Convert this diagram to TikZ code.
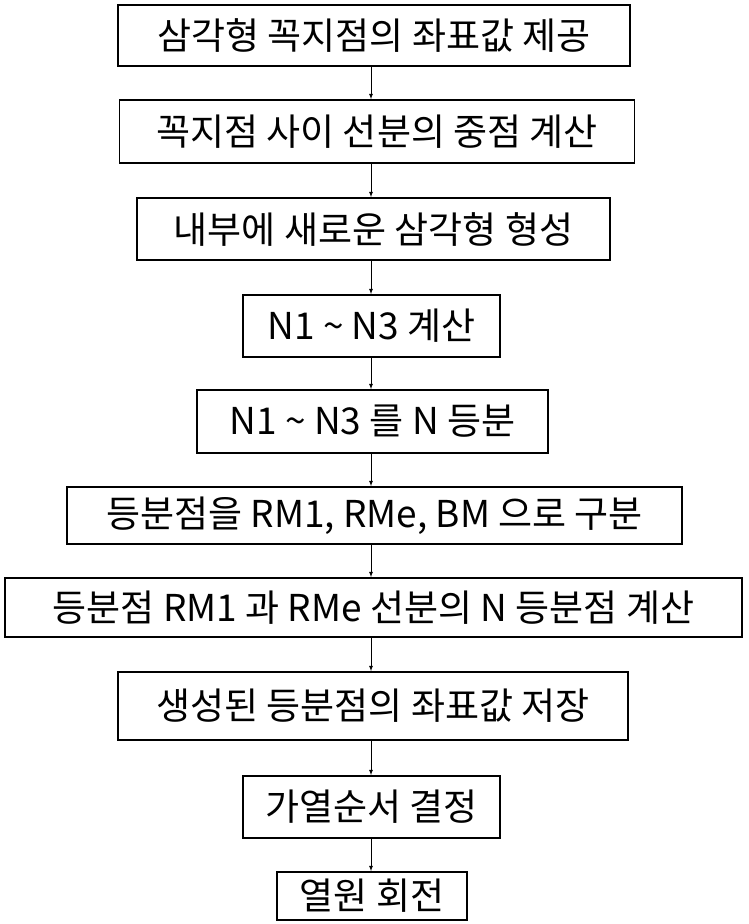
\documentclass[tikz,border=0pt]{standalone}
\usepackage{fontspec}
\setmainfont{Noto Sans CJK KR}
\begin{document}
\begin{tikzpicture}[x=1pt, y=-1pt, inner sep=0pt]
		\tikzstyle{every node}=[align=center]
		\tikzset{stepbox/.style={draw, line width=1.8pt, font=\fontsize{37}{40}\selectfont}}
			\useasboundingbox (0,0) rectangle (748,924);
			\node[stepbox, minimum width=512, minimum height=61] (vertex) at (374,35.5) {삼각형 꼭지점의 좌표값 제공};
			\node[stepbox, minimum width=515, minimum height=63] (midpoint) at (377,131.5) {꼭지점 사이 선분의 중점 계산};
			\node[stepbox, minimum width=473, minimum height=62] (inner) at (373.5,229) {내부에 새로운 삼각형 형성};
			\node[stepbox, minimum width=257, minimum height=62] (ncalc) at (371.5,326) {N1 \textasciitilde{} N3 계산};
			\node[stepbox, minimum width=351, minimum height=63] (ndiv) at (372.5,421.5) {N1 \textasciitilde{} N3 를 N 등분};
			\node[stepbox, minimum width=615, minimum height=57] (classify) at (374.5,515.5) {등분점을 RM1, RMe, BM 으로 구분};
			\node[stepbox, minimum width=737, minimum height=59] (segdiv) at (373.5,607.5) {등분점 RM1 과 RMe 선분의 N 등분점 계산};
			\node[stepbox, minimum width=510, minimum height=68] (store) at (373,706) {생성된 등분점의 좌표값 저장};
			\node[stepbox, minimum width=257, minimum height=62] (order) at (371.5,807) {가열순서 결정};
			\node[stepbox, minimum width=190, minimum height=48] (rotate) at (372,896) {열원 회전};
	
			\foreach \a/\b in {vertex/midpoint, midpoint/inner, inner/ncalc, ncalc/ndiv, ndiv/classify, classify/segdiv, segdiv/store, store/order, order/rotate}
				\draw[-latex, line width=0.8pt] (\a.south -| 371,0) -- (\b.north -| 371,0);
		\end{tikzpicture}
\end{document}
